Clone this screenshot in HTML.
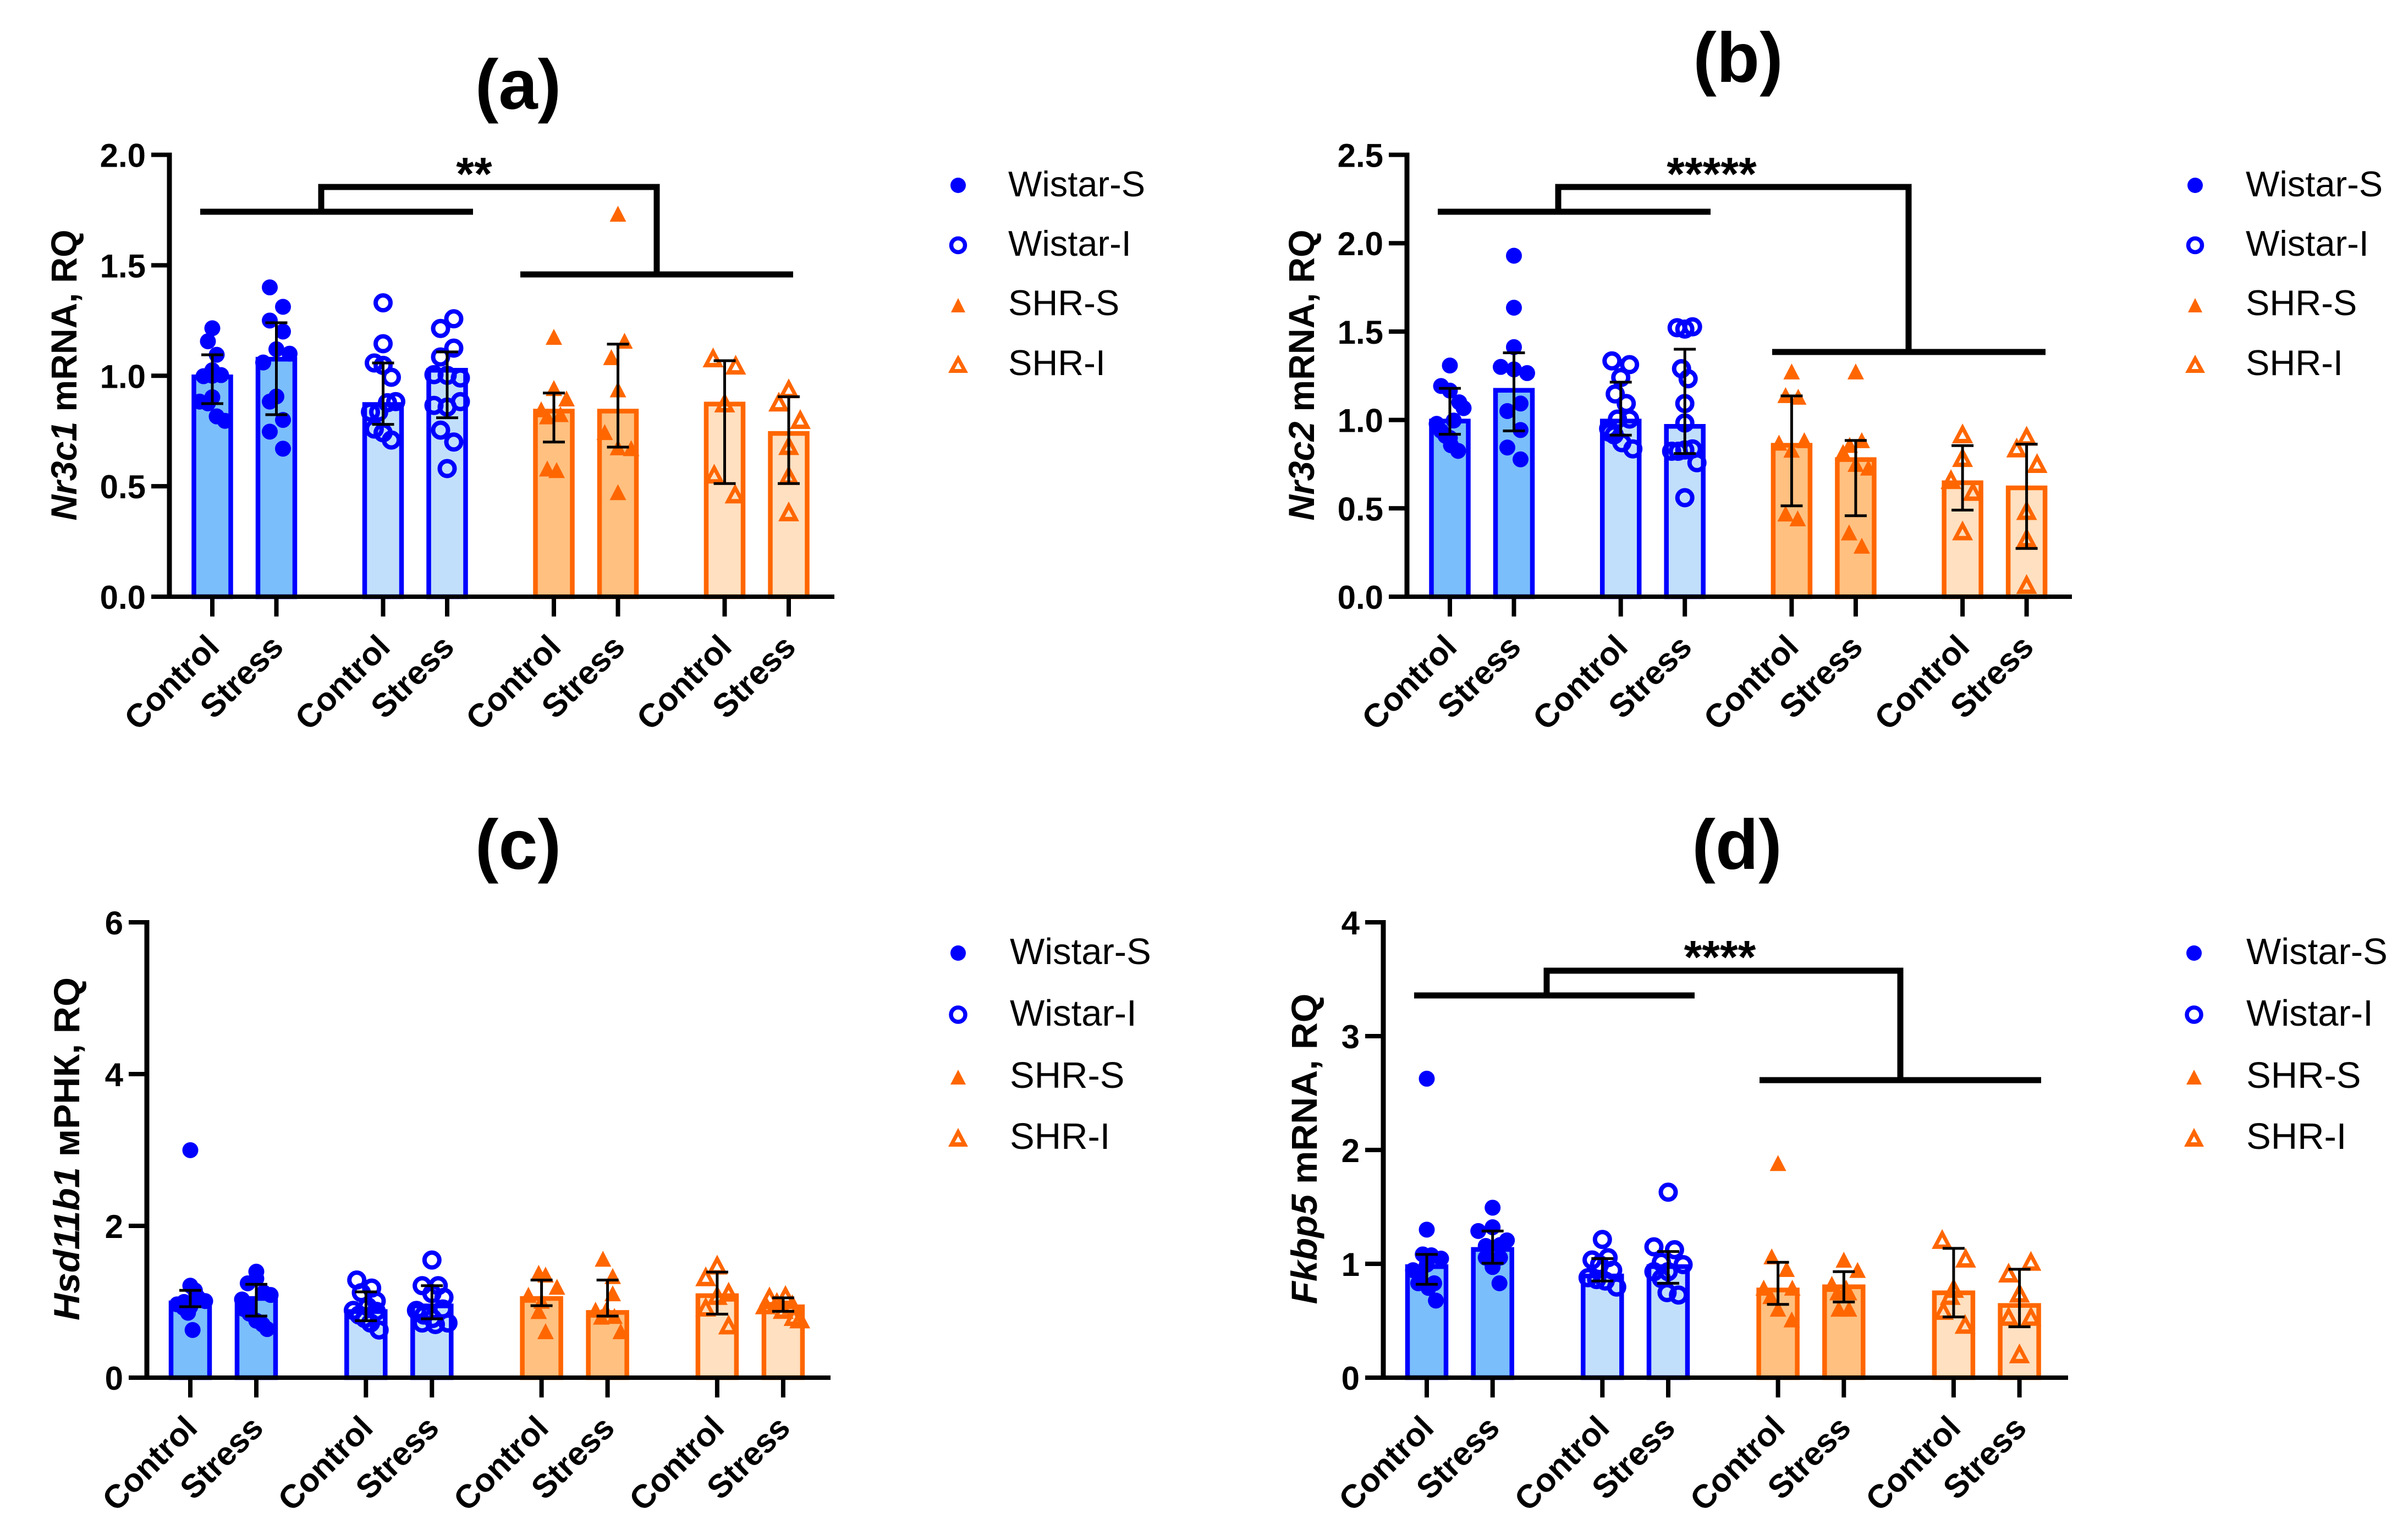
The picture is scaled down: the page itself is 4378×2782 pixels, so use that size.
<!DOCTYPE html>
<html lang="en">
<head>
<meta charset="utf-8">
<title>Gene expression panels</title>
<style>
html,body{margin:0;padding:0;background:#fff;}
svg{display:block;font-family:"Liberation Sans",Arial,sans-serif;}
.panel-title{font-size:128px;font-weight:700;text-anchor:middle;fill:#000;}
.y-title{font-size:66px;font-weight:700;text-anchor:middle;fill:#000;}
.legend-text{fill:#000;}
.stars{font-size:84px;font-weight:700;text-anchor:middle;fill:#000;}
.bracket{fill:none;stroke:#000;stroke-width:11;stroke-linejoin:miter;}
</style>
</head>
<body>
<svg id="figure" width="4378" height="2782" viewBox="0 0 4378 2782">
  <rect x="0" y="0" width="4378" height="2782" fill="#fff"/>

  <g id="panel-a"></g>
  <g id="panel-b"></g>
  <g id="panel-c"></g>
  <g id="panel-d"></g>

  <text class="panel-title" x="942" y="198">(a)</text>
  <text class="panel-title" x="3160" y="149">(b)</text>
  <text class="panel-title" x="942" y="1580">(c)</text>
  <text class="panel-title" x="3158" y="1580">(d)</text>

  <text class="y-title" transform="translate(139 682) rotate(-90)" textLength="529" lengthAdjust="spacingAndGlyphs"><tspan font-style="italic">Nr3c1</tspan> mRNA, RQ</text>
  <text class="y-title" transform="translate(2389 682) rotate(-90)" textLength="529" lengthAdjust="spacingAndGlyphs"><tspan font-style="italic">Nr3c2</tspan> mRNA, RQ</text>
  <text class="y-title" transform="translate(144 2089) rotate(-90)" textLength="624" lengthAdjust="spacingAndGlyphs"><tspan font-style="italic">Hsd11b1</tspan> мРНК, RQ</text>
  <text class="y-title" transform="translate(2394 2089) rotate(-90)" textLength="565" lengthAdjust="spacingAndGlyphs"><tspan font-style="italic">Fkbp5</tspan> mRNA, RQ</text>

  <g>
    <path class="bracket" d="M364 385H860"/>
    <path class="bracket" d="M946 499H1442"/>
    <path class="bracket" d="M584 385V340H1194V499"/>
    <text class="stars" x="862" y="345">**</text>
  </g>
  <g>
    <path class="bracket" d="M2614 385H3110"/>
    <path class="bracket" d="M3222 640H3719"/>
    <path class="bracket" d="M2833 385V340H3470V640"/>
    <text class="stars" x="3112" y="345">*****</text>
  </g>
  <g>
    <path class="bracket" d="M2571 1810H3081"/>
    <path class="bracket" d="M3199 1964H3711"/>
    <path class="bracket" d="M2812 1810V1765H3455V1964"/>
    <text class="stars" x="3127" y="1769">****</text>
  </g>

  <g font-size="65">
    <circle cx="1742" cy="337" r="14" fill="#0000ff"/>
    <text class="legend-text" x="1833" y="357">Wistar-S</text>
    <circle cx="1742" cy="446" r="12.5" fill="#fff" stroke="#0000ff" stroke-width="7.5"/>
    <text class="legend-text" x="1833" y="465">Wistar-I</text>
    <polygon points="1729,568 1755,568 1742,542" fill="#ff6600"/>
    <text class="legend-text" x="1833" y="573">SHR-S</text>
    <path fill-rule="evenodd" fill="#ff6600" d="M1724 678H1760L1742 645ZM1735.5 671H1748.5L1742 659Z"/>
    <text class="legend-text" x="1833" y="682">SHR-I</text>
  </g>
  <g font-size="65">
    <circle cx="3991" cy="337" r="14" fill="#0000ff"/>
    <text class="legend-text" x="4083" y="357">Wistar-S</text>
    <circle cx="3991" cy="446" r="12.5" fill="#fff" stroke="#0000ff" stroke-width="7.5"/>
    <text class="legend-text" x="4083" y="465">Wistar-I</text>
    <polygon points="3978,568 4004,568 3991,542" fill="#ff6600"/>
    <text class="legend-text" x="4083" y="573">SHR-S</text>
    <path fill-rule="evenodd" fill="#ff6600" d="M3973 678H4009L3991 645ZM3984.5 671H3997.5L3991 659Z"/>
    <text class="legend-text" x="4083" y="682">SHR-I</text>
  </g>
  <g font-size="67">
    <circle cx="1742" cy="1733" r="14" fill="#0000ff"/>
    <text class="legend-text" x="1836" y="1753">Wistar-S</text>
    <circle cx="1742" cy="1845" r="13" fill="#fff" stroke="#0000ff" stroke-width="7.5"/>
    <text class="legend-text" x="1836" y="1865">Wistar-I</text>
    <polygon points="1728,1972 1756,1972 1742,1945" fill="#ff6600"/>
    <text class="legend-text" x="1836" y="1978">SHR-S</text>
    <path fill-rule="evenodd" fill="#ff6600" d="M1724 2085H1760L1742 2051ZM1736 2077H1748L1742 2066Z"/>
    <text class="legend-text" x="1836" y="2089">SHR-I</text>
  </g>
  <g font-size="67">
    <circle cx="3989" cy="1733" r="14" fill="#0000ff"/>
    <text class="legend-text" x="4084" y="1753">Wistar-S</text>
    <circle cx="3989" cy="1845" r="13" fill="#fff" stroke="#0000ff" stroke-width="7.5"/>
    <text class="legend-text" x="4084" y="1865">Wistar-I</text>
    <polygon points="3975,1972 4003,1972 3989,1945" fill="#ff6600"/>
    <text class="legend-text" x="4084" y="1978">SHR-S</text>
    <path fill-rule="evenodd" fill="#ff6600" d="M3971 2085H4007L3989 2051ZM3983 2077H3995L3989 2066Z"/>
    <text class="legend-text" x="4084" y="2089">SHR-I</text>
  </g>
</svg>

<script>
/* ---------- shared categories ---------- */
const xLabels = ['Control','Stress','Control','Stress','Control','Stress','Control','Stress'];
const seriesKeys = ['wistar-s-control','wistar-s-stress','wistar-i-control','wistar-i-stress','shr-s-control','shr-s-stress','shr-i-control','shr-i-stress'];

/* ---------- panel (a) Nr3c1 ---------- */
const yMaxA = 2;
const yTicksA = [0,0.5,1,1.5,2];
const yTickLabelsA = ['0.0','0.5','1.0','1.5','2.0'];
const meansA = [1.0,1.08,0.875,1.03,0.845,0.845,0.877,0.744];
const errLowA = [0.874,0.824,0.78,0.81,0.70,0.677,0.512,0.512];
const errHighA = [1.095,1.24,1.058,1.108,0.922,1.143,1.068,0.905];
const pointsA = [
  [1.215,1.156,1.095,1.025,0.998,1.003,1.0,0.903,0.883,0.875,0.816,0.796],
  [1.40,1.312,1.25,1.20,1.12,1.10,1.06,0.906,0.883,0.80,0.747,0.67],
  [1.33,1.145,1.058,1.047,0.993,0.878,0.883,0.836,0.836,0.759,0.742,0.709],
  [1.258,1.214,1.125,1.085,1.005,1.002,0.99,0.866,0.858,0.883,0.754,0.70,0.58],
  [1.175,0.943,0.896,0.847,0.815,0.825,0.579,0.572],
  [1.732,1.157,1.083,0.937,0.744,0.675,0.671,0.472],
  [1.083,1.05,0.879,0.557,0.467],
  [0.943,0.883,0.804,0.686,0.551,0.386]
];
const jitterA = [
  [0,-8,8,0,-16,16,0,0,-23,-8,8,23],
  [-12,12,-12,12,0,24,-24,0,-12,12,-12,12],
  [0,0,-16,0,15,8,23,-23,-8,-16,0,15],
  [12,-12,12,-12,-24,0,24,-24,0,24,-12,12,0],
  [0,0,23,-23,-12,12,-12,5],
  [0,12,-12,0,-24,0,24,0],
  [-21,20,0,-19,19],
  [0,-18,21,0,0,0]
];

/* ---------- panel (b) Nr3c2 ---------- */
const yMaxB = 2.5;
const yTicksB = [0,0.5,1,1.5,2,2.5];
const yTickLabelsB = ['0.0','0.5','1.0','1.5','2.0','2.5'];
const meansB = [1.0,1.174,1.0,0.97,0.863,0.782,0.651,0.622];
const errLowB = [0.919,0.938,0.914,0.81,0.514,0.458,0.49,0.273];
const errHighB = [1.179,1.38,1.214,1.40,1.136,0.884,0.855,0.863];
const pointsB = [
  [1.308,1.192,1.166,1.10,1.067,0.978,0.997,0.938,0.898,0.91,0.857,0.825],
  [1.929,1.635,1.412,1.30,1.286,1.265,1.093,1.05,0.943,0.844,0.777],
  [1.334,1.313,1.24,1.147,1.093,1.005,1.005,0.951,0.916,0.871,0.836,0.93],
  [1.522,1.514,1.527,1.29,1.233,1.093,0.983,0.823,0.83,0.836,0.823,0.758,0.56],
  [1.273,1.139,1.13,0.87,0.884,0.83,0.469,0.442],
  [1.273,0.884,0.857,0.817,0.75,0.729,0.362,0.287],
  [0.924,0.79,0.665,0.598,0.375],
  [0.911,0.844,0.756,0.49,0.335,0.072]
];
const jitterB = [
  [0,-16,0,17,25,-24,7,-16,0,-8,2,15],
  [0,0,0,-24,0,24,12,-12,12,-12,12],
  [-16,16,0,-10,10,-6,16,-22,-12,2,22,-20],
  [-14,0,14,-6,6,0,0,-24,0,14,-12,22,0],
  [0,-11,12,-23,23,0,-11,11],
  [0,11,-11,-23,0,23,-12,11],
  [0,0,-21,19,0],
  [0,-18,19,0,0,0]
];

/* ---------- panel (c) Hsd11b1 ---------- */
const yMaxC = 6;
const yTicksC = [0,2,4,6];
const yTickLabelsC = ['0','2','4','6'];
const meansC = [1.0,1.058,0.886,0.96,1.058,0.874,1.095,0.948];
const errLowC = [0.935,0.812,0.75,0.775,0.948,0.812,0.837,0.874];
const errHighC = [1.15,1.23,1.13,1.212,1.286,1.286,1.391,1.052];
const pointsC = [
  [2.997,1.212,1.15,0.966,1.009,1.06,0.997,0.935,0.855,0.628,0.92],
  [1.397,1.305,1.243,1.12,1.09,1.03,0.966,0.905,0.843,0.75,0.70,0.64],
  [1.286,1.18,1.12,1.009,0.886,0.935,0.825,0.874,0.78,0.72,0.628],
  [1.55,1.212,1.212,1.058,1.108,0.886,0.905,0.825,0.78,0.72,0.70,0.72],
  [1.378,1.354,1.194,1.089,1.009,0.874,0.609],
  [1.563,1.335,1.108,0.892,0.886,0.81,0.80,0.609],
  [1.489,1.335,1.132,0.935,0.70,1.089],
  [1.07,1.089,0.997,0.966,0.966,0.905,0.812,0.78]
];
const jitterC = [
  [0,0,8,-23,26,13,-11,0,-4,4,-12],
  [0,0,-15,13,25,-25,-12,-22,-12,0,11,19],
  [-16,10,-8,18,-22,3,-12,18,-2,8,23],
  [0,-17,11,21,0,-27,19,-14,1,-17,6,28],
  [-5,7,27,-23,0,-5,7],
  [-8,9,9,-21,-3,12,-11,23],
  [0,-20,20,-20,20,0],
  [-24,4,-11,16,-31,0,19,29]
];

/* ---------- panel (d) Fkbp5 ---------- */
const yMaxD = 4;
const yTicksD = [0,1,2,3,4];
const yTickLabelsD = ['0','1','2','3','4'];
const meansD = [0.985,1.136,0.903,0.985,0.78,0.808,0.755,0.644];
const errLowD = [0.82,1.005,0.849,0.829,0.644,0.665,0.533,0.447];
const errHighD = [1.083,1.288,1.046,1.108,1.013,0.931,1.136,0.952];
const pointsD = [
  [2.626,1.30,1.083,1.075,1.046,0.944,0.993,0.89,0.829,0.829,0.788,0.677],
  [1.493,1.321,1.288,1.206,1.157,1.165,1.054,1.054,0.972,0.829],
  [1.214,1.034,1.054,0.993,0.944,0.878,0.862,0.849,0.796],
  [1.629,1.149,1.124,1.013,0.993,0.931,0.931,0.87,0.747,0.726],
  [1.883,1.063,0.952,0.788,0.788,0.714,0.603,0.509],
  [1.034,0.944,0.821,0.788,0.747,0.747,0.603,0.603],
  [1.218,1.054,0.788,0.726,0.595,0.472],
  [1.026,0.923,0.747,0.542,0.542,0.213]
];
const jitterD = [
  [0,0,-7,8,25,-24,0,-12,13,-15,3,16],
  [0,0,-25,25,-12,13,-12,13,0,12],
  [0,-18,10,-5,18,-25,-10,5,25],
  [0,-25,11,-12,26,-25,0,-12,-2,18],
  [0,-11,15,-25,25,-13,0,24],
  [0,24,-21,4,-11,9,-9,9],
  [-20,21,0,-6,-18,20],
  [20,-19,0,-19,20,0]
];

/* ---------- layout and style (not data) ---------- */
const frameA = {id:'a',axisX:308,top:281.5,zero:1085,right:1517,first:386,pairStep:116.5,groupStep:310.5,barW:67};
const frameB = {id:'b',axisX:2558,top:281.5,zero:1085,right:3767,first:2636,pairStep:116.5,groupStep:310.7,barW:67};
const frameC = {id:'c',axisX:267,top:1677,zero:2505,right:1510,first:346,pairStep:120,groupStep:319.3,barW:70};
const frameD = {id:'d',axisX:2515,top:1677,zero:2505,right:3760,first:2594,pairStep:119.7,groupStep:319.3,barW:70};

const strokeBlue = '#0000ff';
const strokeOrange = '#ff6600';
const barFills = ['#7abefb','#7abefb','#c1dffb','#c1dffb','#ffc080','#ffc080','#ffe0c0','#ffe0c0'];
const barStrokes = [strokeBlue,strokeBlue,strokeBlue,strokeBlue,strokeOrange,strokeOrange,strokeOrange,strokeOrange];
const symbolKinds = ['dot','dot','ring','ring','tri','tri','hollow','hollow'];
const SVGNS = 'http://www.w3.org/2000/svg';

function add(parent, tag, attrs, text) {
  const node = document.createElementNS(SVGNS, tag);
  for (const k in attrs) node.setAttribute(k, attrs[k]);
  if (text !== undefined) node.textContent = text;
  parent.appendChild(node);
  return node;
}

function drawSymbol(parent, kind, cx, cy, color) {
  let mark;
  if (kind === 'dot') {
    mark = add(parent, 'circle', {cx: cx, cy: cy, r: 14.5, fill: color});
  } else if (kind === 'ring') {
    mark = add(parent, 'circle', {cx: cx, cy: cy, r: 13.5, fill: 'none', stroke: color, 'stroke-width': 8});
  } else if (kind === 'tri') {
    mark = add(parent, 'polygon', {points: (cx-15)+','+(cy+14)+' '+(cx+15)+','+(cy+14)+' '+cx+','+(cy-15), fill: color});
  } else {
    const d = 'M'+(cx-19)+' '+(cy+18)+'H'+(cx+19)+'L'+cx+' '+(cy-18)+'Z'
            + 'M'+(cx-7)+' '+(cy+10)+'H'+(cx+7)+'L'+cx+' '+(cy-3)+'Z';
    mark = add(parent, 'path', {d: d, fill: color, 'fill-rule': 'evenodd'});
  }
  return mark;
}

function drawPanel(f, yMax, yTicks, yTickLabels, means, errLow, errHigh, points, jitter) {
  const root = document.getElementById('panel-' + f.id);
  const yScale = function (v) { return f.zero - (v / yMax) * (f.zero - f.top); };
  const xBand = function (i) { return f.first + f.pairStep * (i % 2) + f.groupStep * Math.floor(i / 2); };
  const jitterUnit = (f.barW + 8) / 75;

  means.forEach(function (m, i) {
    const cx = xBand(i);
    const barTop = yScale(m) + 2;
    const bar = add(root, 'rect', {x: cx - f.barW / 2, y: barTop, width: f.barW, height: f.zero - barTop, fill: barFills[i], stroke: barStrokes[i], 'stroke-width': 8.5});
    
    
  });

  points.forEach(function (vals, i) {
    const cx = xBand(i);
    vals.forEach(function (v, k) {
      const off = (jitter[i][k] || 0) * jitterUnit;
      const mark = drawSymbol(root, symbolKinds[i], cx + off, yScale(v), barStrokes[i]);
      
      
    });
  });

  means.forEach(function (m, i) {
    const cx = xBand(i);
    const d = 'M' + cx + ' ' + yScale(errLow[i]) + 'V' + yScale(errHigh[i])
            + 'M' + (cx - 20) + ' ' + yScale(errHigh[i]) + 'H' + (cx + 20)
            + 'M' + (cx - 20) + ' ' + yScale(errLow[i]) + 'H' + (cx + 20);
    const err = add(root, 'path', {d: d, fill: 'none', stroke: '#000', 'stroke-width': 5});
    
    
  });

  const yAxis = add(root, 'path', {d: 'M' + f.axisX + ' ' + (f.top - 4) + 'V' + (f.zero + 4), stroke: '#000', 'stroke-width': 9, fill: 'none'});
  
  

  const xAxis = add(root, 'path', {d: 'M' + (f.axisX - 33) + ' ' + f.zero + 'H' + f.right, stroke: '#000', 'stroke-width': 8, fill: 'none'});
  
  

  yTicks.forEach(function (t, i) {
    const y = yScale(t);
    const tick = add(root, 'path', {d: 'M' + (f.axisX - 33) + ' ' + y + 'H' + f.axisX, stroke: '#000', 'stroke-width': 8, fill: 'none'});
    
    
    const label = add(root, 'text', {x: f.axisX - 43, y: y + 22, 'text-anchor': 'end', 'font-size': 60, 'font-weight': 700, fill: '#000'}, yTickLabels[i]);
    
    
  });

  xLabels.forEach(function (name, i) {
    const cx = xBand(i);
    const tick = add(root, 'path', {d: 'M' + cx + ' ' + f.zero + 'V' + (f.zero + 36), stroke: '#000', 'stroke-width': 8, fill: 'none'});
    
    
    const ax = cx + 16;
    const ay = f.zero + 95;
    const label = add(root, 'text', {x: ax, y: ay, 'text-anchor': 'end', 'font-size': 60, 'font-weight': 700, fill: '#000', transform: 'rotate(-45 ' + ax + ' ' + ay + ')'}, name);
    
    
  });
}

drawPanel(frameA, yMaxA, yTicksA, yTickLabelsA, meansA, errLowA, errHighA, pointsA, jitterA);
drawPanel(frameB, yMaxB, yTicksB, yTickLabelsB, meansB, errLowB, errHighB, pointsB, jitterB);
drawPanel(frameC, yMaxC, yTicksC, yTickLabelsC, meansC, errLowC, errHighC, pointsC, jitterC);
drawPanel(frameD, yMaxD, yTicksD, yTickLabelsD, meansD, errLowD, errHighD, pointsD, jitterD);
</script>
</body>
</html>
